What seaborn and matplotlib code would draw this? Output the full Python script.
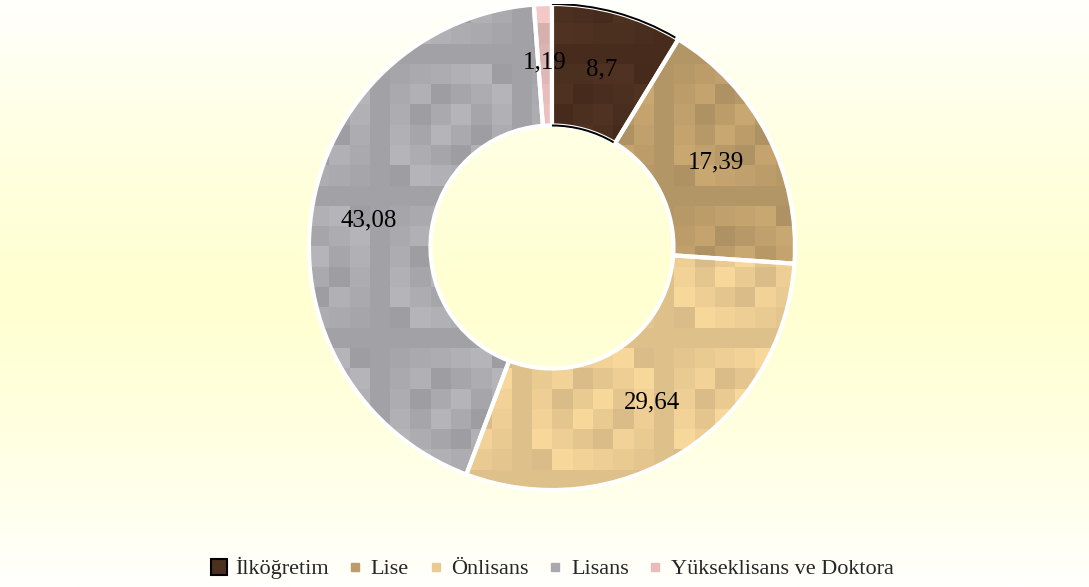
import matplotlib
matplotlib.use("Agg")
import matplotlib.pyplot as plt
import seaborn as sns
import numpy as np
from matplotlib.patches import Arc
from matplotlib.lines import Line2D
from matplotlib.colors import to_rgb

# education levels and their shares (%)
categories = ["İlköğretim", "Lise", "Önlisans", "Lisans", "Yükseklisans ve Doktora"]
values = [8.7, 17.39, 29.64, 43.08, 1.19]
value_labels = ["8,7", "17,39", "29,64", "43,08", "1,19"]
colors = ["#4b2f1f", "#bc9d6a", "#e9ca91", "#a9a9ae", "#e6bcbc"]

sns.set_theme(style="white")
plt.rcParams["font.family"] = ["Liberation Serif", "DejaVu Serif"]

fig = plt.figure(figsize=(10.89, 5.87), dpi=100)

# background: white -> pale yellow -> white
bg = fig.add_axes([0, 0, 1, 1], zorder=-5)
t = np.abs(np.linspace(-1, 1, 400))
top = np.array(to_rgb("#fffffd"))
mid = np.array(to_rgb("#ffffd2"))
grad = mid[None, :] + (top - mid)[None, :] * (t ** 1.4)[:, None]
bg.imshow(grad[:, None, :], aspect="auto", extent=(0, 1, 0, 1))
bg.set_axis_off()

ax = fig.add_axes([0.2837, 0.1652, 0.4463, 0.828])
wedges, _ = ax.pie(values, colors=colors, startangle=90, counterclock=False,
                   radius=1, wedgeprops=dict(width=0.5, edgecolor="white", linewidth=3))

# mosaic-like texture clipped to each slice
n = 24
ii, jj = np.meshgrid(np.arange(n), np.arange(n))
shade = 1 + 0.022 * (((ii * 5 + jj * 11 + ii * jj) % 7) - 3)
for w, c in zip(wedges, colors):
    img = np.clip(np.array(to_rgb(c))[None, None, :] * shade[..., None], 0, 1)
    im = ax.imshow(img, extent=(-1, 1, -1, 1), interpolation="nearest", zorder=1)
    im.set_clip_path(w)
    w.set_facecolor("none")
    w.set_zorder(3)

# black outline on the first slice
w0 = wedges[0]
for d in (2.0, 1.0):
    ax.add_patch(Arc((0, 0), d, d, theta1=w0.theta1 + 0.8, theta2=w0.theta2,
                     color="black", lw=1.4, zorder=4))

# value labels inside the ring
for w, lab in zip(wedges, value_labels):
    ang = np.deg2rad((w.theta1 + w.theta2) / 2)
    ax.text(0.76 * np.cos(ang), 0.76 * np.sin(ang), lab, ha="center", va="center",
            fontsize=18, color="black", zorder=5)

ax.set_xlim(-1.0, 1.0)
ax.set_ylim(-1.0, 1.0)
ax.set_axis_off()

handles = []
for i, c in enumerate(colors):
    if i == 0:
        handles.append(Line2D([], [], marker="s", ls="", markerfacecolor=c,
                              markeredgecolor="black", markeredgewidth=1.5, markersize=11))
    else:
        handles.append(Line2D([], [], marker="s", ls="", markerfacecolor=c,
                              markeredgecolor=c, markersize=6))
fig.legend(handles, categories, loc="center", bbox_to_anchor=(0.507, 0.032), ncol=5,
           frameon=False, fontsize=16, handlelength=0.8, handletextpad=0.3,
           columnspacing=0.8)

fig.savefig("out.png", dpi=100)
